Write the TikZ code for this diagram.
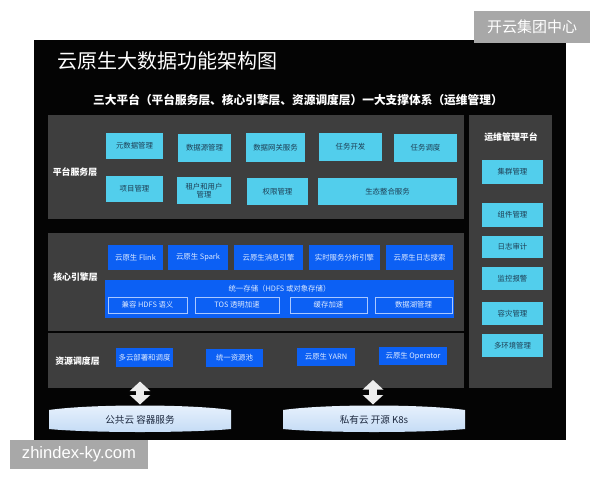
\documentclass[tikz,border=0pt]{standalone}
\usepackage{fontspec}
\setmainfont{Noto Sans CJK SC}
\newfontfamily\wmfont{Liberation Sans}
\usetikzlibrary{arrows.meta}
\definecolor{bgc}{RGB}{4,4,4}
\definecolor{panelc}{RGB}{62,62,62}
\definecolor{cyanc}{RGB}{82,206,236}
\definecolor{cyantext}{RGB}{30,62,84}
\definecolor{bluec}{RGB}{12,96,244}
\definecolor{bluetext}{RGB}{222,234,255}
\definecolor{subborder}{RGB}{170,200,255}
\definecolor{cyltop}{RGB}{232,242,253}
\definecolor{cylbot}{RGB}{196,219,245}
\definecolor{cyltext}{RGB}{28,40,62}
\definecolor{wmgray}{RGB}{168,168,168}
\definecolor{arrowc}{RGB}{236,236,236}
\tikzset{
  panel/.style={fill=panelc, inner sep=0pt},
  cbox/.style={fill=cyanc, text=cyantext, inner sep=0pt, align=center,
    font=\fontsize{7.4}{8.6}\selectfont},
  bbox/.style={fill=bluec, text=bluetext, inner sep=0pt, align=center,
    font=\fontsize{7.4}{8.6}\selectfont},
  sbox/.style={bbox, draw=subborder, line width=0.6pt},
  layerlbl/.style={text=white, inner sep=0pt, font=\bfseries\fontsize{8.9}{10}\selectfont},
  cyltxt/.style={text=cyltext, inner sep=0pt, font=\fontsize{9.6}{11}\selectfont},
  dblarrow/.style={draw=arrowc, line width=8pt,
    {Triangle[width=20pt,length=9.5pt]}-{Triangle[width=20pt,length=9.5pt]}},
  wm/.style={fill=wmgray, text=white, inner sep=0pt}
}
\begin{document}
\begin{tikzpicture}[x=1pt,y=-1pt]
\useasboundingbox (0,0) rectangle (600,480);
\fill[white] (0,0) rectangle (600,480);
% black background
\fill[bgc] (34,40) rectangle (566,440);

% title and subtitle
\node[text=white, inner sep=0pt, anchor=west, font=\fontsize{20}{22}\selectfont] (title) at (57,61) {云原生大数据功能架构图};
\node[text=white, inner sep=0pt, anchor=west, font=\bfseries\fontsize{11.7}{13}\selectfont] (subtitle) at (93,100) {三大平台（平台服务层、核心引擎层、资源调度层）一大支撑体系（运维管理）};

% layer panels
\node[panel, minimum width=416, minimum height=104] (plat) at (256,167) {};
\node[panel, minimum width=416, minimum height=98] (core) at (256,282) {};
\node[panel, minimum width=416, minimum height=55] (res) at (256,360.5) {};
\node[panel, minimum width=83, minimum height=273] (ops) at (510.5,251.5) {};

% layer labels
\node[layerlbl] (l1) at (75,172) {平台服务层};
\node[layerlbl] (l2) at (75.5,277) {核心引擎层};
\node[layerlbl] (l3) at (77.5,361) {资源调度层};
\node[layerlbl] (l4) at (511,137) {运维管理平台};

% platform service layer
\node[cbox, minimum width=57, minimum height=26] (p1) at (134.5,146) {元数据管理};
\node[cbox, minimum width=53, minimum height=28] (p2) at (204.5,148) {数据源管理};
\node[cbox, minimum width=59, minimum height=29] (p3) at (275.5,147.5) {数据网关服务};
\node[cbox, minimum width=63, minimum height=28] (p4) at (350.5,147) {任务开发};
\node[cbox, minimum width=63, minimum height=28] (p5) at (425.5,148) {任务调度};
\node[cbox, minimum width=57, minimum height=26] (p6) at (134.5,189) {项目管理};
\node[cbox, minimum width=54, minimum height=27] (p7) at (204,190.5) {租户和用户\\管理};
\node[cbox, minimum width=61, minimum height=27] (p8) at (277.5,191.5) {权限管理};
\node[cbox, minimum width=139, minimum height=27] (p9) at (387.5,191.5) {生态整合服务};

% core engine layer
\node[bbox, minimum width=55, minimum height=25] (c1) at (135.5,257.5) {云原生 Flink};
\node[bbox, minimum width=60, minimum height=25] (c2) at (198,257.5) {云原生 Spark};
\node[bbox, minimum width=69, minimum height=25] (c3) at (268.5,257.5) {云原生消息引擎};
\node[bbox, minimum width=71, minimum height=25] (c4) at (344.5,257.5) {实时服务分析引擎};
\node[bbox, minimum width=67, minimum height=25] (c5) at (419.5,257.5) {云原生日志搜索};
\node[bbox, minimum width=349, minimum height=38] (store) at (279.5,299) {};
\node[text=bluetext, inner sep=0pt, font=\fontsize{7.4}{8.6}\selectfont] (storet) at (279.5,288.5) {统一存储（HDFS 或对象存储）};
\node[sbox, minimum width=79, minimum height=16] (s1) at (147.5,305) {兼容 HDFS 语义};
\node[sbox, minimum width=84, minimum height=16] (s2) at (237,305) {TOS 透明加速};
\node[sbox, minimum width=77, minimum height=16] (s3) at (328.5,305) {缓存加速};
\node[sbox, minimum width=77, minimum height=16] (s4) at (413.5,305) {数据湖管理};

% resource scheduling layer
\node[bbox, minimum width=57, minimum height=19] (r1) at (144.5,357.5) {多云部署和调度};
\node[bbox, minimum width=57, minimum height=18] (r2) at (234.5,358) {统一资源池};
\node[bbox, minimum width=58, minimum height=18] (r3) at (326,357) {云原生 YARN};
\node[bbox, minimum width=68, minimum height=18] (r4) at (413,356) {云原生 Operator};

% ops platform
\node[cbox, minimum width=61, minimum height=24] (o1) at (512.5,172) {集群管理};
\node[cbox, minimum width=61, minimum height=24] (o2) at (512.5,215) {组件管理};
\node[cbox, minimum width=61, minimum height=22] (o3) at (512.5,247) {日志审计};
\node[cbox, minimum width=61, minimum height=23] (o4) at (512.5,278.5) {监控报警};
\node[cbox, minimum width=61, minimum height=23] (o5) at (512.5,313.5) {容灾管理};
\node[cbox, minimum width=61, minimum height=23] (o6) at (512.5,345.5) {多环境管理};

% cylinders
\shade[top color=cyltop, bottom color=cylbot]
  (49,410) .. controls (90,404) and (190,404) .. (231,410)
  -- (231,429) .. controls (190,433) and (90,433) .. (49,429) -- cycle;
\shade[top color=cyltop, bottom color=cylbot]
  (283,410) .. controls (324,404) and (424,404) .. (465,410)
  -- (465,429) .. controls (424,433) and (324,433) .. (283,429) -- cycle;
\node[cyltxt] (pub) at (140,420) {公共云 容器服务};
\node[cyltxt] (priv) at (374,420) {私有云 开源 K8s};

% double arrows
\coordinate (a1t) at (140,381.5);
\coordinate (a1b) at (140,404.5);
\coordinate (a2t) at (373,380);
\coordinate (a2b) at (373,404.5);
\draw[dblarrow] (a1t) -- (a1b);
\draw[dblarrow] (a2t) -- (a2b);

% watermarks
\node[wm, minimum width=116, minimum height=32, font=\fontsize{15}{17}\selectfont] (wm1) at (532,27) {开云集团中心};
\node[wm, minimum width=138, minimum height=29, font=\wmfont\fontsize{16.6}{18}\selectfont] (wm2) at (79,454.5) {zhindex-ky.com};
\end{tikzpicture}
\end{document}
